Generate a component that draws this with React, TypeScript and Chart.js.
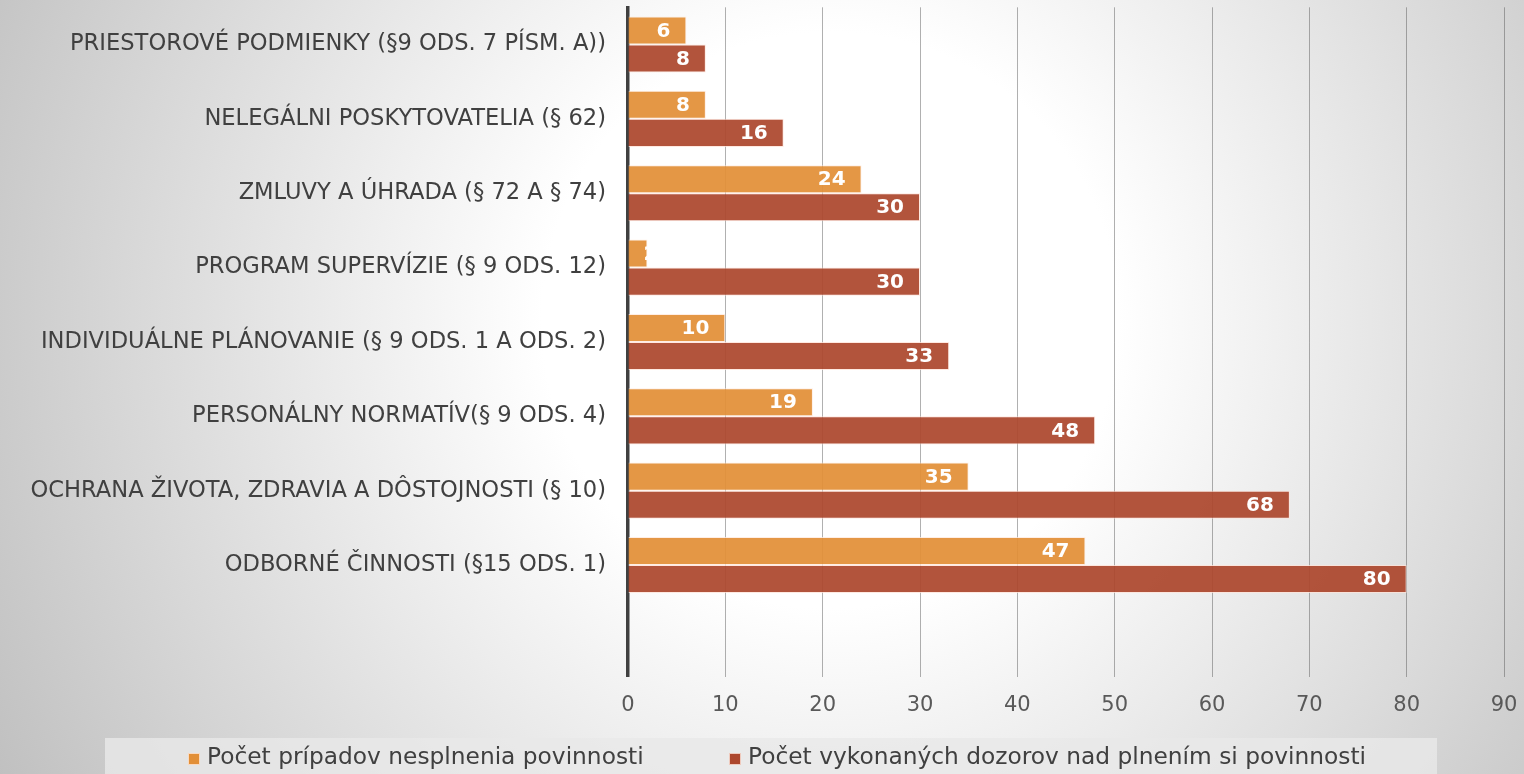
import React, { useEffect, useRef } from "react";
import { Chart, registerables } from "chart.js";

Chart.register(...registerables);

const categories = [
  "PRIESTOROVÉ PODMIENKY (§9 ODS. 7 PÍSM. A))",
  "NELEGÁLNI POSKYTOVATELIA (§ 62)",
  "ZMLUVY A ÚHRADA (§ 72 A § 74)",
  "PROGRAM SUPERVÍZIE (§ 9 ODS. 12)",
  "INDIVIDUÁLNE PLÁNOVANIE (§ 9 ODS. 1 A ODS. 2)",
  "PERSONÁLNY NORMATÍV(§ 9 ODS. 4)",
  "OCHRANA ŽIVOTA, ZDRAVIA A DÔSTOJNOSTI (§ 10)",
  "ODBORNÉ ČINNOSTI (§15 ODS. 1)",
  "",
];
const seriesNames = [
  "Počet prípadov nesplnenia povinnosti",
  "Počet vykonaných dozorov nad plnením si povinnosti",
];
const nesplnenie = [6, 8, 24, 2, 10, 19, 35, 47, null];
const dozory = [8, 16, 30, 30, 33, 48, 68, 80, null];
const xMin = 0;
const xMax = 90;
const xStep = 10;

const FONT = "'DejaVu Sans', sans-serif";
const fills = ["rgba(226,143,55,0.93)", "rgba(172,71,45,0.93)"];
const legendSwatch = ["#e28f37", "#ad472d"];

const bgPlugin = {
  id: "bgGradient",
  beforeDraw(chart: any) {
    const { ctx, width, height } = chart;
    ctx.save();
    const g = ctx.createRadialGradient(830, 320, 0, 830, 320, 960);
    g.addColorStop(0, "#ffffff");
    g.addColorStop(0.3, "#ffffff");
    g.addColorStop(1, "#bfbfbf");
    ctx.fillStyle = g;
    ctx.fillRect(0, 0, width, height);
    ctx.restore();
  },
};

const labelPlugin = {
  id: "valueLabels",
  afterDatasetsDraw(chart: any) {
    const { ctx } = chart;
    ctx.save();
    ctx.font = `bold 20px ${FONT}`;
    ctx.fillStyle = "#ffffff";
    ctx.textBaseline = "middle";
    ctx.textAlign = "center";
    chart.data.datasets.forEach((ds: any, di: number) => {
      const meta = chart.getDatasetMeta(di);
      meta.data.forEach((bar: any, i: number) => {
        const v = ds.data[i];
        if (v == null) return;
        const p = bar.getProps(["x", "y", "base", "height"], true);
        const text = String(v);
        const w = ctx.measureText(text).width;
        let cx = p.x - 16 - w / 2;
        if (cx - w / 2 < p.base) cx = p.x + w / 2 - 4;
        ctx.save();
        ctx.beginPath();
        ctx.rect(p.base, p.y - p.height / 2, p.x - p.base, p.height);
        ctx.clip();
        ctx.fillText(text, cx, p.y + 1);
        ctx.restore();
      });
    });
    ctx.restore();
  },
};

const legendPlugin = {
  id: "customLegend",
  afterDraw(chart: any) {
    const { ctx } = chart;
    ctx.save();
    ctx.fillStyle = "rgba(232,232,232,0.8)";
    ctx.fillRect(105, 738, 1332, 40);
    const starts = [188, 729];
    ctx.font = `23.3px ${FONT}`;
    ctx.textBaseline = "middle";
    ctx.textAlign = "left";
    chart.data.datasets.forEach((ds: any, i: number) => {
      const x = starts[i];
      ctx.fillStyle = legendSwatch[i];
      ctx.fillRect(x, 753, 12, 12);
      ctx.strokeStyle = "rgba(255,235,225,0.8)";
      ctx.lineWidth = 1;
      ctx.strokeRect(x + 0.5, 753.5, 11, 11);
      ctx.fillStyle = "#404040";
      ctx.fillText(ds.label, x + 19, 757.5);
    });
    ctx.restore();
  },
};

export default function App() {
  const ref = useRef<HTMLCanvasElement>(null);
  useEffect(() => {
    document.body.style.margin = "0";
    const canvas = ref.current!;
    const chart = new Chart(canvas, {
      type: "bar",
      data: {
        labels: categories,
        datasets: [
          {
            label: seriesNames[0],
            data: nesplnenie,
            backgroundColor: fills[0],
            borderColor: "rgba(255,232,220,0.75)",
            borderWidth: 1,
            barPercentage: 1,
            categoryPercentage: 0.755,
          },
          {
            label: seriesNames[1],
            data: dozory,
            backgroundColor: fills[1],
            borderColor: "rgba(255,225,215,0.75)",
            borderWidth: 1,
            barPercentage: 1,
            categoryPercentage: 0.755,
          },
        ],
      },
      options: {
        indexAxis: "y",
        responsive: false,
        animation: false,
        layout: { padding: { top: 7.3, left: 0, right: 20, bottom: 0 } },
        plugins: {
          legend: { display: false },
          tooltip: { enabled: false },
        },
        scales: {
          x: {
            min: xMin,
            max: xMax,
            ticks: {
              stepSize: xStep,
              padding: 16,
              color: "#595959",
              font: { family: FONT, size: 21 },
            },
            grid: {
              color: "rgba(80,80,80,0.45)",
              lineWidth: 1,
              drawTicks: false,
            },
            border: { display: false },
            afterFit: (s: any) => {
              s.height = 97.4;
              s.paddingLeft = 0;
              s.paddingRight = 0;
            },
          },
          y: {
            ticks: {
              padding: 22,
              color: "#404040",
              font: { family: FONT, size: 22.6 },
              autoSkip: false,
            },
            grid: { display: false, drawTicks: false },
            border: { display: true, color: "#404040", width: 3.5 },
            afterFit: (s: any) => {
              s.width = 628;
              s.paddingTop = 0;
              s.paddingBottom = 0;
            },
          },
        },
      },
      plugins: [bgPlugin, labelPlugin, legendPlugin],
    });
    return () => chart.destroy();
  }, []);
  return (
    <div style={{ width: 1524, height: 774 }}>
      <canvas ref={ref} width={1524} height={774} style={{ display: "block" }} />
    </div>
  );
}
